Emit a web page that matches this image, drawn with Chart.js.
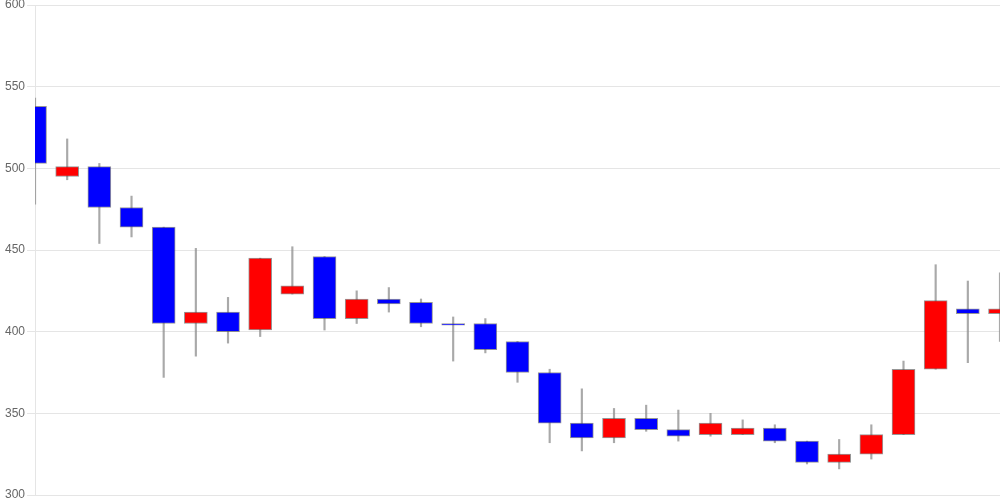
<!DOCTYPE html>
<html>
<head>
<meta charset="utf-8">
<script src="https://cdn.jsdelivr.net/npm/chart.js@4.4.1/dist/chart.umd.min.js"></script>
<style>
  html, body { margin: 0; padding: 0; background: #fff; }
  #wrap { width: 1000px; height: 500px; }
</style>
</head>
<body>
<div id="wrap"><canvas id="candleChart"></canvas></div>
<script>
// Valores (31 dias)
const labels = ['1','2','3','4','5','6','7','8','9','10','11','12','13','14','15','16',
                '17','18','19','20','21','22','23','24','25','26','27','28','29','30','31'];
const opens  = [538, 495, 501, 476, 464, 405, 412, 401, 423, 446, 408, 420, 418, 405, 405, 394,
                375, 344, 335, 347, 340, 337, 337, 341, 333, 320, 325, 337, 377, 414, 411];
const highs  = [543, 518, 503, 483, 464, 451, 421, 445, 452, 446, 425, 427, 420, 409, 408, 394,
                377, 365, 353, 355, 352, 350, 346, 343, 333, 334, 343, 382, 441, 431, 436];
const lows   = [478, 493, 454, 458, 372, 385, 393, 397, 423, 401, 405, 412, 403, 382, 387, 369,
                332, 327, 332, 339, 333, 336, 337, 332, 319, 316, 322, 337, 377, 381, 394];
const closes = [503, 501, 476, 464, 405, 412, 400, 445, 428, 408, 420, 417, 405, 404, 389, 375,
                344, 335, 347, 340, 336, 344, 341, 333, 320, 325, 337, 377, 419, 411, 414];
const yTicks = [300, 350, 400, 450, 500, 550, 600];

// Montar corpos e pavios como barras flutuantes
const corpos = opens.map((o, i) => [Math.min(o, closes[i]), Math.max(o, closes[i])]);
const pavios = lows.map((l, i) => [l, highs[i]]);
const cores = opens.map((o, i) => closes[i] >= o ? '#ff0000' : '#0000ff');

const ctx = document.getElementById('candleChart');

new Chart(ctx, {
    type: 'bar',
    data: {
        labels: labels,
        datasets: [
            {
                label: 'corpo',
                data: corpos,
                backgroundColor: cores,
                borderColor: 'rgba(80, 80, 80, 0.6)',
                borderWidth: 1,
                borderSkipped: false,
                barThickness: 23,
                grouped: false,
                order: 0
            },
            {
                label: 'pavio',
                data: pavios,
                backgroundColor: 'rgba(140, 140, 140, 0.75)',
                borderWidth: 0,
                barThickness: 1.5,
                grouped: false,
                order: 1
            }
        ]
    },
    options: {
        responsive: true,
        maintainAspectRatio: false,
        animation: false,
        layout: { padding: { left: 3, top: 0, right: 0, bottom: 0 } },
        plugins: {
            legend: { display: false },
            tooltip: { enabled: false }
        },
        scales: {
            x: {
                display: false,
                offset: false,
                grid: { display: false }
            },
            y: {
                min: 300,
                max: 600,
                afterBuildTicks: (axis) => {
                    axis.ticks = yTicks.map(v => ({ value: v }));
                },
                grid: {
                    color: 'rgba(0, 0, 0, 0.1)',
                    tickLength: 8
                },
                border: { color: 'rgba(0, 0, 0, 0.1)' },
                ticks: {
                    color: '#666',
                    font: { family: 'Liberation Sans, Arial, sans-serif', size: 12, lineHeight: 0.5 },
                    padding: 2
                }
            }
        }
    }
});
</script>
</body>
</html>
